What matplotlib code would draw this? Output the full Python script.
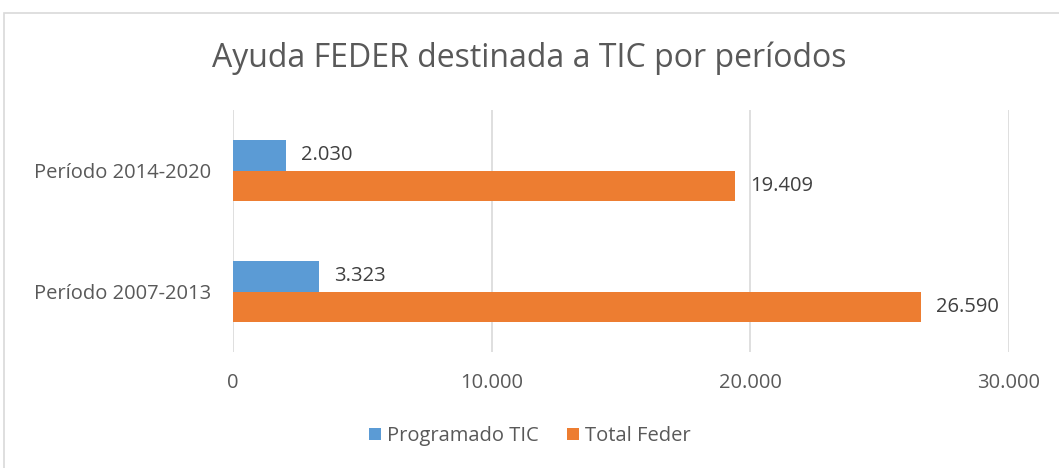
import matplotlib
matplotlib.use("Agg")
import matplotlib.pyplot as plt
from matplotlib.patches import Rectangle
from matplotlib.ticker import FuncFormatter
import numpy as np

categories = ["Período 2007-2013", "Período 2014-2020"]
programado_tic = [3323, 2030]
total_feder = [26590, 19409]
series_names = ["Programado TIC", "Total Feder"]
xticks = [0, 10000, 20000, 30000]

plt.rcParams['font.family'] = ['Open Sans', 'DejaVu Sans']

W, H = 1059, 468
fig = plt.figure(figsize=(W / 100, H / 100), dpi=100)
ax = fig.add_axes([233 / W, 1 - 352 / H, (1009 - 233) / W, (352 - 110) / H])

# outer chart border
fig.patches.append(Rectangle((4 / W, -0.05), 1.1, 1 - 13 / H + 0.05,
                             transform=fig.transFigure, fill=False,
                             edgecolor="#d9d9d9", linewidth=1.2))

y = np.arange(len(categories))
h = 0.256
blue = "#5b9bd5"
orange = "#ed7d31"
b1 = ax.barh(y + h / 2, programado_tic, height=h, color=blue, label=series_names[0])
b2 = ax.barh(y - h / 2, total_feder, height=h, color=orange, label=series_names[1])

fmt = lambda v: f"{v:,.0f}".replace(",", ".")
for bars in (b1, b2):
    for rect in bars:
        v = rect.get_width()
        ax.annotate(fmt(v), (v, rect.get_y() + rect.get_height() / 2),
                    xytext=(11, 0), textcoords="offset points",
                    va="center", ha="left", fontsize=14.5, color="#404040")

ax.set_xlim(0, 30000)
ax.set_ylim(-0.5, 1.5)
ax.set_xticks(xticks)
ax.xaxis.set_major_formatter(FuncFormatter(lambda v, p: fmt(v)))
ax.set_yticks(y)
ax.set_yticklabels(categories)
ax.tick_params(axis="both", length=0, labelsize=14.5, labelcolor="#595959")
ax.tick_params(axis="x", pad=15)
ax.tick_params(axis="y", pad=16)
for s in ax.spines.values():
    s.set_visible(False)
ax.grid(axis="x", color="#d9d9d9", linewidth=1.2)
ax.set_axisbelow(True)

fig.text(0.5, 1 - 58 / H, "Ayuda FEDER destinada a TIC por períodos",
         ha="center", va="center", fontsize=23, color="#595959")

fig.legend(handles=[b1, b2], loc="center", bbox_to_anchor=(0.5, 1 - 436 / H),
           ncol=2, frameon=False, fontsize=14.5, labelcolor="#595959",
           handlelength=0.6, handleheight=0.6, handletextpad=0.3, columnspacing=1.4)

fig.savefig("out.png", dpi=100)
